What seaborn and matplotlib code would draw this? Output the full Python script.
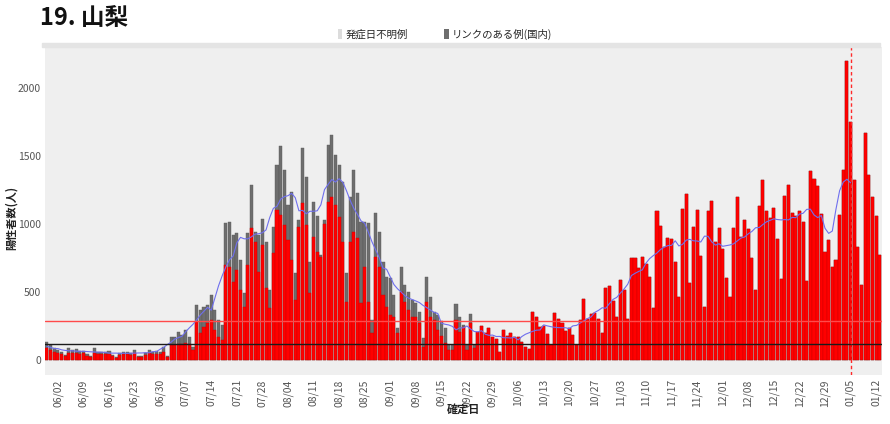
import numpy as np
import pandas as pd
import seaborn as sns
import matplotlib.pyplot as plt
from matplotlib.patches import Patch, Rectangle

# daily positives (total height of each bar), starting 05/30
total = [135, 110, 86, 73, 61, 37, 86, 73, 78, 69, 69, 44, 29, 86, 61, 61, 61, 66, 37, 20,
         49, 61, 61, 49, 73, 29, 29, 49, 73, 61, 66, 61, 93, 29,
         171, 171, 208, 184, 220, 171, 98,
         404, 370, 392, 404, 478, 368, 294, 257,
         1005, 1017, 919, 931, 735, 490, 931, 1287, 943, 919, 1034, 870, 515, 980, 1434, 1574,
         1397, 1140, 1238, 642,
         1029, 1556, 1348, 723, 1164, 1060,
         772, 1029, 1580, 1654, 1507, 1434, 1311, 642, 1200, 1397, 1225, 1017, 1017, 1005, 294,
         1078, 943, 723, 613, 600, 478, 233, 686, 551, 502, 441, 417, 355, 159, 613, 466, 355,
         330, 290, 233, 110, 110, 412, 319, 257, 110, 336, 110,
         208, 250, 196, 238, 171, 152, 56, 220, 176, 201, 171, 171, 135, 98, 81, 350, 319, 245,
         250, 191, 110, 343, 299, 275, 216, 233, 184,
         110, 294, 446, 299, 338, 348, 299, 196, 527, 547, 434, 314, 588, 515, 299, 752, 752,
         679, 760, 703, 613, 380, 1098, 985, 833, 895, 887, 723, 466, 1108, 1221, 569, 975,
         1103, 765,
         392, 1098, 1169, 870, 968, 814, 600, 461, 968, 1201, 907, 1029, 961, 748, 515, 1132,
         1324, 1096, 1042, 1115, 887, 593, 1206, 1287, 1078, 1059, 1096, 1017, 581, 1390, 1328,
         1279, 1071, 797,
         882, 686, 735, 1066, 1397, 2194, 1752, 1324, 833, 551, 1667, 1360, 1201, 1059, 772]

# red part of the early bars (the rest of each bar is the dark grey "link" part);
# after these days the bars are all red
red_early = [86, 73, 61, 54, 44, 29, 54, 49, 49, 44, 49, 29, 20, 49, 44, 44, 44, 44, 29, 15,
             34, 44, 44, 34, 49, 20, 20, 34, 49, 44, 44, 44, 61, 20,
             110, 110, 115, 115, 122, 115, 73,
             282, 196, 245, 270, 294, 220, 171, 147,
             698, 686, 576, 662, 515, 392, 698, 968, 870, 650, 845, 527, 380, 784, 1103, 1066,
             993, 882, 735, 441,
             980, 1152, 993, 490, 907, 797,
             760, 1000, 1164, 1200, 1140, 1054, 870, 429, 870, 943, 894, 417, 686, 429, 196,
             760, 686, 478, 392, 331, 318, 196, 502, 429, 368, 318, 318, 270, 98, 429, 318, 294,
             220, 180, 122, 73, 73, 294, 208, 245, 73, 270, 86]

start_date = '2022-05-30'
marker_date = '2023-01-05'
level_red = 290
level_black = 118
legend_labels = ['発症日不明例', 'リンクのある例(国内)']

dates = pd.date_range(start_date, periods=len(total), freq='D')
red = red_early + total[len(red_early):]
df = pd.DataFrame({'day': np.arange(len(total)), 'date': dates,
                   'total': total, 'red': red})
df['avg'] = df['total'].rolling(7, center=True, min_periods=4).mean()
marker_idx = int((pd.Timestamp(marker_date) - dates[0]).days)

sns.set_theme(style='white')
plt.rcParams['font.family'] = ['Noto Sans CJK JP', 'DejaVu Sans']

fig = plt.figure(figsize=(8.9, 4.24), dpi=100)
ax = fig.add_axes([0.0506, 0.1156, 0.9404, 0.7734])
ax.set_facecolor('#efefef')

sns.barplot(data=df, x='day', y='total', native_scale=True, color='#6e6e6e',
            saturation=1, width=0.85, edgecolor='#5a5a5a', linewidth=0.3,
            errorbar=None, ax=ax)
sns.barplot(data=df, x='day', y='red', native_scale=True, color='#ff0000',
            saturation=1, width=0.85, edgecolor='#c80000', linewidth=0.3,
            errorbar=None, ax=ax)
sns.lineplot(data=df[df['day'] <= marker_idx], x='day', y='avg',
             color='#6f6fee', linewidth=0.8, ax=ax)

ax.axhline(level_red, color='#ff4a4a', linewidth=1.0)
ax.axhline(level_black, color='#1a1a1a', linewidth=1.0)
ax.axvline(marker_idx, color='#ff2a2a', linewidth=1.0, linestyle=(0, (2.5, 2)), zorder=5)

ax.set_xlim(-0.5, len(total) - 0.4)
ax.set_ylim(-110, 2300)
tick_days = df['day'][3::7]
ax.set_xticks(tick_days)
ax.set_xticklabels(df['date'][3::7].dt.strftime('%m/%d'), rotation=90)
ax.set_yticks([0, 500, 1000, 1500, 2000])
ax.tick_params(axis='both', length=0, colors='#555555', labelsize=7.5, pad=3)
for s in ax.spines.values():
    s.set_visible(False)

ax.set_xlabel('確定日', fontsize=8, fontweight='bold', color='#222222')
ax.xaxis.set_label_coords(0.5, -0.085)
ax.set_ylabel('陽性者数(人)', fontsize=8, fontweight='bold', color='#222222')
ax.yaxis.set_label_coords(-0.033, 0.48)

fig.text(0.045, 0.985, '19. 山梨', fontsize=17, fontweight='bold', va='top', color='#111111')
fig.patches.append(Rectangle((42 / 890, 1 - 47 / 424), 838 / 890, 4 / 424,
                             transform=fig.transFigure, color='#e4e4e4', zorder=0))

handles = [Patch(facecolor='#dcdcdc', edgecolor='none'),
           Patch(facecolor='#6e6e6e', edgecolor='none')]
fig.legend(handles, legend_labels, loc='center', bbox_to_anchor=(0.5, 1 - 34 / 424),
           ncol=2, frameon=False, fontsize=7.5, handlelength=0.45, handleheight=1.1,
           handletextpad=0.3, columnspacing=3.5)

fig.savefig('out.png', dpi=100)
